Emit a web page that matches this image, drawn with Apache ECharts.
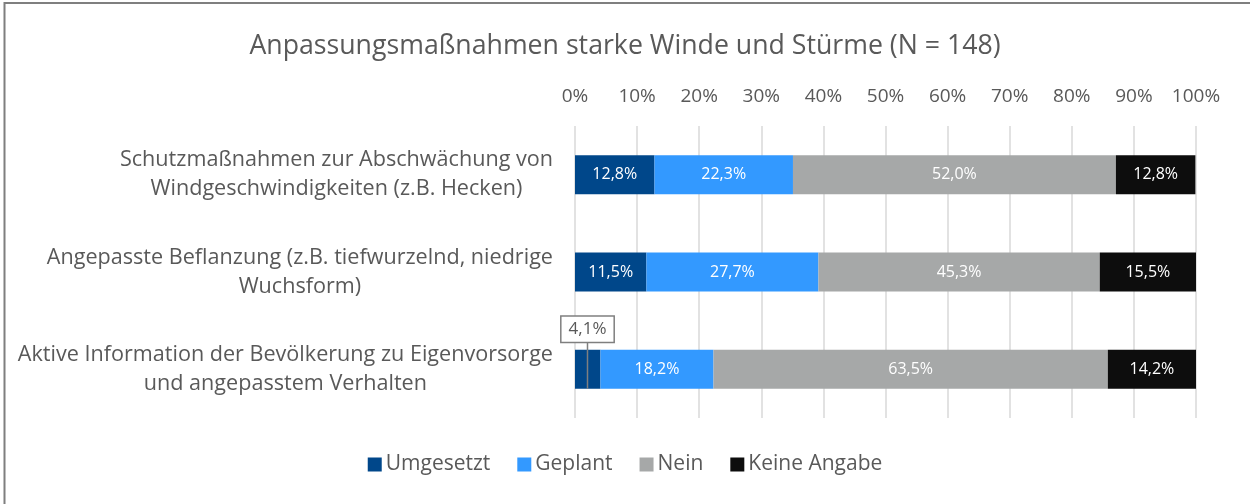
<!DOCTYPE html>
<html>
<head>
<meta charset="utf-8">
<script src="https://cdn.jsdelivr.net/npm/echarts@6/dist/echarts.min.js"></script>
<style>
  html, body { margin: 0; padding: 0; background: #fff; }
  #chart { width: 1250px; height: 504px; }
</style>
</head>
<body>
<div id="chart"></div>
<script>
const title = 'Anpassungsmaßnahmen starke Winde und Stürme (N = 148)';
const categories = [
  'Schutzmaßnahmen zur Abschwächung von\nWindgeschwindigkeiten (z.B. Hecken)',
  'Angepasste Beflanzung (z.B. tiefwurzelnd, niedrige\nWuchsform)',
  'Aktive Information der Bevölkerung zu Eigenvorsorge\nund angepasstem Verhalten'
];
const seriesNames = ['Umgesetzt', 'Geplant', 'Nein', 'Keine Angabe'];
const umgesetzt = [12.8, 11.5, 4.1];
const geplant = [22.3, 27.7, 18.2];
const nein = [52.0, 45.3, 63.5];
const keineAngabe = [12.8, 15.5, 14.2];
const tickValues = [0, 10, 20, 30, 40, 50, 60, 70, 80, 90, 100];

const colors = ['#00478A', '#3399FF', '#A6A8A8', '#0D0D0D'];
const FONT = '"Open Sans", "Noto Sans", sans-serif';
const TXT = '#595959';
const fmt = v => v.toFixed(1).replace('.', ',') + '%';
const SMALL = 6; // values below this get a callout instead of an inside label

const chart = echarts.init(document.getElementById('chart'), null, { renderer: 'canvas' });

function barSeries(name, data, idx) {
  return {
    name: name,
    type: 'bar',
    stack: 'total',
    barWidth: '40%',
    itemStyle: { color: colors[idx] },
    label: {
      show: true,
      position: 'inside',
      color: '#fff',
      fontFamily: FONT,
      fontSize: 16,
      formatter: p => (p.value < SMALL ? '' : fmt(p.value))
    },
    emphasis: { disabled: true },
    data: data
  };
}

const calloutData = umgesetzt
  .map((v, i) => [v, i])
  .filter(d => d[0] < SMALL);

const option = {
  animation: false,
  textStyle: { fontFamily: FONT },
  title: {
    text: title,
    left: 'center',
    top: 28,
    textStyle: { fontFamily: FONT, fontSize: 26.7, fontWeight: 'normal', color: TXT }
  },
  legend: {
    data: seriesNames,
    bottom: 24,
    left: 'center',
    itemWidth: 14,
    itemHeight: 14,
    itemGap: 27,
    icon: 'rect',
    textStyle: { fontFamily: FONT, fontSize: 21, color: TXT, padding: [0, 0, 0, -1] }
  },
  grid: { left: 575, right: 54, top: 126, bottom: 86, containLabel: false },
  xAxis: {
    type: 'value',
    position: 'top',
    min: 0,
    max: 100,
    interval: 10,
    axisLine: { show: false },
    axisTick: { show: false },
    splitLine: { show: true, lineStyle: { color: '#D9D9D9', width: 1.5 } },
    axisLabel: {
      formatter: v => v + '%',
      fontFamily: FONT,
      fontSize: 19,
      color: TXT,
      margin: 20
    }
  },
  yAxis: {
    type: 'category',
    inverse: true,
    data: categories,
    axisLine: { show: false },
    axisTick: { show: false },
    axisLabel: {
      margin: 22,
      formatter: v => v.split('\n').map(l => '{c|' + l + '}').join('\n'),
      rich: {
        c: { align: 'center', fontFamily: FONT, fontSize: 21.6, color: TXT, lineHeight: 29 }
      }
    }
  },
  graphic: [{
    type: 'rect',
    shape: { x: 4.5, y: 3, width: 1260, height: 540 },
    style: { fill: 'none', stroke: '#7F7F7F', lineWidth: 2 },
    silent: true,
    z: 100
  }],
  series: [
    barSeries(seriesNames[0], umgesetzt, 0),
    barSeries(seriesNames[1], geplant, 1),
    barSeries(seriesNames[2], nein, 2),
    barSeries(seriesNames[3], keineAngabe, 3),
    {
      name: 'callout',
      type: 'custom',
      coordinateSystem: 'cartesian2d',
      encode: { x: 0, y: 1 },
      z: 10,
      silent: true,
      renderItem: function (params, api) {
        const v = api.value(0);
        const c = api.value(1);
        const p = api.coord([v / 2, c]);
        const h = api.size([0, 1])[1] * 0.4;
        const top = p[1] - h / 2;
        const bottom = p[1] + h / 2;
        const x = Math.round(p[0]) - 0.5;
        return {
          type: 'group',
          children: [
            {
              type: 'line',
              shape: { x1: x, y1: top - 8, x2: x, y2: bottom },
              style: { stroke: '#7F7F7F', lineWidth: 1.5 }
            },
            {
              type: 'text',
              x: x,
              y: top - 8,
              style: {
                text: fmt(v),
                fill: TXT,
                fontFamily: FONT,
                fontSize: 17,
                align: 'center',
                verticalAlign: 'bottom',
                backgroundColor: '#fff',
                borderColor: '#7F7F7F',
                borderWidth: 1.5,
                padding: [4, 7, 4, 7]
              }
            }
          ]
        };
      },
      data: calloutData
    }
  ]
};

chart.setOption(option);
</script>
</body>
</html>
